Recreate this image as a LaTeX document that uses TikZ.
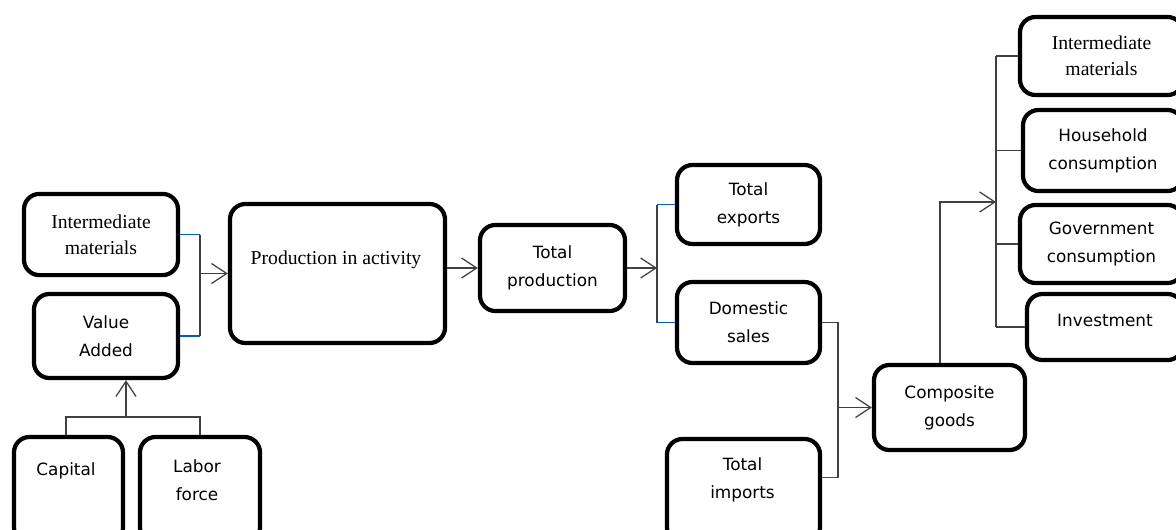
\documentclass[tikz,border=0pt]{standalone}
\usepackage{fontspec}
\setmainfont{Liberation Serif}
\setsansfont{DejaVu Sans}
\usetikzlibrary{arrows.meta}

\begin{document}
\begin{tikzpicture}[
  x=0.025cm, y=-0.025cm,
  block/.style={draw, line width=3pt, rounded corners=11pt, align=center, inner sep=0pt,
    font=\sffamily\fontsize{12}{20}\selectfont},
  serifblock/.style={block, font=\rmfamily\fontsize{14}{18.5}\selectfont},
  txt/.style={align=center, inner sep=0pt, font=\sffamily\fontsize{12}{20}\selectfont},
  conn/.style={draw=black!75, line width=0.9pt},
  link/.style={draw=blue!55!cyan!80!black, line width=0.9pt},
  arr/.style={conn, -{Straight Barb[length=0.38cm,width=0.5cm]}}
]
\useasboundingbox (0,0) rectangle (1176,529);
\clip (0,0) rectangle (1176,529);

% Production side
\node[serifblock, minimum width=3.85cm, minimum height=2.03cm] (im1) at (101,234.5) {Intermediate\\materials};
\node[block, minimum width=3.6cm, minimum height=2.1cm] (va) at (106,336) {Value\\Added};
\node[serifblock, minimum width=5.375cm, minimum height=3.475cm] (pa) at (337.5,273.5) {};
\node[txt, font=\rmfamily\fontsize{14}{18.5}\selectfont] (patxt) at (336,260) {Production in activity};

% Factors
\node[block, minimum width=2.725cm, minimum height=2.65cm] (cap) at (68.5,490) {};
\node[txt] (captxt) at (66,471) {Capital};
\node[block, minimum width=3cm, minimum height=2.65cm] (lab) at (200,490) {};
\node[txt] (labtxt) at (197,480) {Labor\\force};

% Output
\node[block, minimum width=3.625cm, minimum height=2.15cm] (tp) at (552.5,268) {Total\\production};
\node[block, minimum width=3.575cm, minimum height=1.975cm] (te) at (748.5,204.5) {Total\\exports};
\node[block, minimum width=3.575cm, minimum height=2.025cm] (ds) at (748.5,322.5) {Domestic\\sales};
\node[block, minimum width=3.825cm, minimum height=2.6cm] (ti) at (743.5,491) {};
\node[txt] (titxt) at (742.5,480) {Total\\imports};
\node[block, minimum width=3.775cm, minimum height=2.125cm] (cg) at (949.5,407.5) {Composite\\goods};

% Demand
\node[serifblock, minimum width=4.075cm, minimum height=1.95cm] (im2) at (1101.5,56) {Intermediate\\materials};
\node[block, minimum width=4cm, minimum height=2.025cm] (hc) at (1103,150.5) {Household\\consumption};
\node[block, minimum width=4.075cm, minimum height=1.95cm] (gc) at (1101.5,244) {Government\\consumption};
\node[block, minimum width=3.9cm, minimum height=1.65cm] (inv) at (1105,327) {};
\node[txt] (invtxt) at (1105,320) {Investment};

% Junctions
\coordinate (j1) at (200,273.5);
\coordinate (j2) at (126,417);
\coordinate (j3) at (657,268);
\coordinate (j4) at (838,407.5);
\coordinate (j5) at (996,202);

% Connections
\draw[link] (im1.east) -- (im1.east -| j1);
\draw[link] (va.east) -- (va.east -| j1);
\draw[conn] (im1.east -| j1) -- (va.east -| j1);
\draw[arr] (j1) -- (pa.west);

\draw[conn] (cap.north -| captxt) |- (j2) -| (lab.north);
\draw[arr] (j2) -- (j2 |- va.south);

\draw[arr] (pa.east |- tp.west) -- (tp.west);
\draw[arr] (tp.east) -- (j3);
\draw[conn] (te.west -| j3) -- (ds.west -| j3);
\draw[link] (te.west -| j3) -- (te.west);
\draw[link] (ds.west -| j3) -- (ds.west);

\draw[conn] (ds.east) -- (ds.east -| j4) -- ([yshift=0.33cm]ti.east -| j4);
\draw[link] ([yshift=0.33cm]ti.east -| j4) -- ([yshift=0.33cm]ti.east);
\draw[arr] (j4) -- (cg.west);

\draw[arr] ([xshift=-0.24cm]cg.north) |- (j5);
\draw[conn] (im2.west -| j5) -- (inv.west -| j5);
\foreach \n in {im2,hc,gc,inv}
  \draw[conn] (\n.west -| j5) -- (\n.west);

\end{tikzpicture}
\end{document}
